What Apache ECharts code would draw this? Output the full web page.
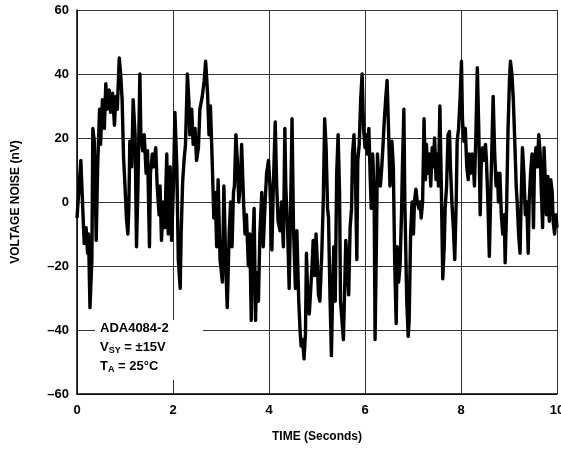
<!DOCTYPE html>
<html>
<head>
<meta charset="utf-8">
<script src="https://cdn.jsdelivr.net/npm/echarts@6/dist/echarts.min.js"></script>
<style>html,body{margin:0;padding:0;background:#fff}#c{width:561px;height:449px}</style>
</head>
<body>
<div id="c"></div>
<script>
var timeSec = [0.00,0.08,0.12,0.15,0.19,0.22,0.24,0.27,0.31,0.33,0.36,0.40,0.43,0.47,0.49,0.53,0.57,0.60,0.63,0.67,0.70,0.74,0.78,0.81,0.84,0.88,0.91,0.94,0.97,1.00,
1.03,1.06,1.08,1.10,1.14,1.17,1.21,1.24,1.27,1.31,1.33,1.37,1.40,1.44,1.47,1.51,1.53,1.57,1.60,1.64,1.67,1.71,1.73,1.76,1.80,1.83,1.87,1.90,1.94,1.97,
2.01,2.04,2.08,2.11,2.15,2.17,2.20,2.23,2.26,2.30,2.33,2.35,2.39,2.42,2.46,2.49,2.53,2.56,2.61,2.65,2.68,2.72,2.75,2.78,2.82,2.85,2.88,2.91,2.94,2.98,
3.03,3.06,3.10,3.13,3.17,3.20,3.23,3.26,3.28,3.31,3.34,3.37,3.40,3.43,3.47,3.50,3.53,3.57,3.60,3.63,3.66,3.69,3.72,3.74,3.78,3.81,3.85,3.88,3.92,3.95,3.99,
4.02,4.06,4.09,4.13,4.16,4.19,4.23,4.26,4.30,4.33,4.35,4.39,4.42,4.45,4.48,4.51,4.55,4.58,4.62,4.65,4.67,4.70,4.73,4.76,4.78,4.81,4.84,4.87,4.90,4.92,4.95,4.98,
5.01,5.03,5.06,5.10,5.13,5.16,5.19,5.22,5.24,5.27,5.30,5.33,5.35,5.38,5.41,5.44,5.47,5.49,5.52,5.55,5.58,5.60,5.63,5.66,5.69,5.72,5.74,5.77,5.80,5.83,5.85,5.88,5.91,5.94,5.97,
6.00,6.02,6.05,6.08,6.11,6.13,6.16,6.19,6.21,6.24,6.26,6.29,6.32,6.35,6.38,6.40,6.43,6.46,6.49,6.52,6.56,6.59,6.62,6.65,6.67,6.70,6.73,6.76,6.78,6.81,6.83,6.87,6.90,6.92,6.95,6.98,
7.01,7.03,7.06,7.09,7.12,7.15,7.17,7.20,7.23,7.26,7.28,7.31,7.34,7.37,7.40,7.42,7.45,7.48,7.51,7.53,7.56,7.59,7.62,7.65,7.67,7.70,7.73,7.76,7.78,7.81,7.84,7.87,7.90,7.92,7.95,7.98,
8.01,8.03,8.06,8.09,8.12,8.15,8.17,8.20,8.23,8.26,8.28,8.31,8.34,8.37,8.40,8.42,8.45,8.48,8.51,8.53,8.56,8.59,8.62,8.65,8.67,8.70,8.73,8.76,8.78,8.81,8.84,8.87,8.90,8.92,8.95,8.98,
9.01,9.03,9.06,9.09,9.12,9.15,9.17,9.20,9.23,9.26,9.28,9.31,9.34,9.37,9.40,9.42,9.45,9.48,9.51,9.53,9.56,9.59,9.62,9.65,9.67,9.70,9.73,9.76,9.78,9.81,9.84,9.87,9.90,9.92,9.95,9.98,10.00];

var noiseNV = [-5,13,-2,-13,-8,-16,-10,-33,-18,23,19,-12,11,29,18,32,23,37,29,35,28,34,24,33,29,45,40,32,14,5,
-5,-10,-2,19,11,32,21,-14,5,40,21,16,21,9,16,-14,9,15,11,17,5,-4,5,-12,0,-8,15,-10,11,-12,
5,28,11,-18,-27,-10,6,13,18,40,32,21,29,18,23,13,17,29,33,38,44,34,21,30,11,-5,3,-14,7,-18,
-25,5,-20,-33,-10,0,-14,3,5,21,13,0,5,18,0,-10,-4,-20,-10,-37,-14,-2,-37,-22,-31,-10,3,-14,0,9,13,
5,-15,5,25,5,-6,-9,0,-14,23,5,-10,-27,-2,26,-8,-27,-9,-31,-41,-45,-43,-49,-41,-16,-31,-35,-27,-19,-12,-23,-10,
-20,-29,-31,-16,0,26,17,-2,-5,-29,-48,-25,-14,-31,9,21,3,-31,-37,-43,-25,-12,-20,-29,-8,-2,15,21,9,-18,13,18,32,40,23,
17,21,15,23,7,-2,15,3,-43,-10,15,6,5,11,19,25,32,38,23,5,19,11,-20,-38,-14,-25,-20,-4,11,29,0,-31,-42,-37,-10,0,
-10,0,4,0,-2,0,-5,0,26,7,18,9,15,5,17,11,20,7,15,5,30,5,-24,-14,-2,5,21,22,11,0,-8,-18,0,19,23,32,
44,26,19,23,11,7,15,9,15,11,5,21,42,23,-4,11,17,13,18,13,0,-17,3,21,33,16,5,9,0,9,-4,-10,-4,-19,-2,23,
38,44,40,32,19,5,0,-10,-16,5,17,9,-4,0,-16,0,9,15,-8,11,17,11,21,15,5,-8,17,5,-4,8,-6,7,3,-6,-10,-4,-8];

var xTicks = {min: 0, max: 10, step: 2};
var yTicks = {min: -60, max: 60, step: 20};
var xTitle = 'TIME (Seconds)';
var yTitle = 'VOLTAGE NOISE (nV)';
var noteLines = ['ADA4084-2', 'V|SY| = ±15V', 'T|A| = 25°C'];

var seriesData = timeSec.map(function (t, i) { return [t, noiseNV[i]]; });

function noteText(line) {
  var p = line.split('|');
  if (p.length === 1) return '{b|' + p[0] + '}';
  return '{b|' + p[0] + '}{s|' + p[1] + '}{b|' + p[2] + '}';
}

var FONT = 'Liberation Sans, Arial, sans-serif';
var chart = echarts.init(document.getElementById('c'), null, {renderer: 'canvas'});
chart.setOption({
  animation: false,
  backgroundColor: '#fff',
  grid: {left: 77, right: 4, top: 10, bottom: 55, containLabel: false, outerBoundsMode: 'none', show: false},
  xAxis: {
    type: 'value', min: xTicks.min, max: xTicks.max, interval: xTicks.step,
    name: xTitle, nameLocation: 'middle', nameGap: 37,
    nameTextStyle: {fontFamily: FONT, fontWeight: 'bold', fontSize: 12, color: '#000'},
    axisLine: {show: true, onZero: false, lineStyle: {color: '#000', width: 1.5}},
    axisTick: {show: false},
    axisLabel: {fontFamily: FONT, fontWeight: 'bold', fontSize: 13, color: '#000', margin: 10},
    splitLine: {show: true, lineStyle: {color: '#333', width: 1}}
  },
  yAxis: {
    type: 'value', min: yTicks.min, max: yTicks.max, interval: yTicks.step,
    name: yTitle, nameLocation: 'middle', nameGap: 55, nameRotate: 90,
    nameTextStyle: {fontFamily: FONT, fontWeight: 'bold', fontSize: 12, color: '#000'},
    axisLine: {show: true, onZero: false, lineStyle: {color: '#000', width: 1.5}},
    axisTick: {show: false},
    axisLabel: {fontFamily: FONT, fontWeight: 'bold', fontSize: 13, color: '#000', margin: 8,
      formatter: function (v) { return v < 0 ? '\u2013' + Math.abs(v) : String(v); }},
    splitLine: {show: true, lineStyle: {color: '#333', width: 1}}
  },
  series: [{
    type: 'line', data: seriesData, showSymbol: false, symbol: 'none',
    lineStyle: {color: '#000', width: 3.4, join: 'round'}, z: 3
  }],
  graphic: [
    {type: 'rect', left: 95, top: 320, shape: {width: 108, height: 60}, style: {fill: '#fff'}, z: 10},
    {type: 'text', left: 100, top: 322, z: 11,
      style: {
        text: noteLines.map(noteText).join('\n'),
        rich: {
          b: {fontFamily: FONT, fontWeight: 'bold', fontSize: 13, color: '#000', lineHeight: 19},
          s: {fontFamily: FONT, fontWeight: 'bold', fontSize: 9, color: '#000', lineHeight: 19, padding: [7, 0, 0, 0]}
        }
      }}
  ]
});
</script>
</body>
</html>
